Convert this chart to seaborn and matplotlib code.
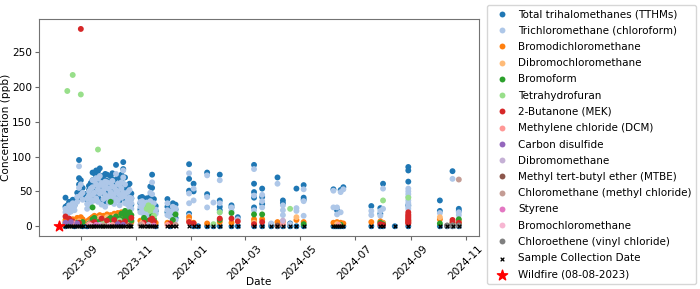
import pandas as pd
import matplotlib.pyplot as plt
import matplotlib.dates as mdates
import seaborn as sns

analytes = ['Total trihalomethanes (TTHMs)', 'Trichloromethane (chloroform)', 'Bromodichloromethane',
            'Dibromochloromethane', 'Bromoform', 'Tetrahydrofuran', '2-Butanone (MEK)',
            'Methylene chloride (DCM)', 'Carbon disulfide', 'Dibromomethane',
            'Methyl tert-butyl ether (MTBE)', 'Chloromethane (methyl chloride)', 'Styrene',
            'Bromochloromethane', 'Chloroethene (vinyl chloride)']

wildfire_date = '2023-08-08'

# concentration (ppb) per sampling date
tthm = {
    '2023-08-15': [41, 28, 0], '2023-08-17': [30, 25], '2023-08-19': [35, 27], '2023-08-21': [32, 24],
    '2023-08-23': [38, 29], '2023-08-25': [34, 30, 0], '2023-08-28': [48, 40], '2023-08-30': [95, 69, 60],
    '2023-09-01': [66, 57, 50], '2023-09-03': [55, 44, 0], '2023-09-08': [47, 38, 0], '2023-09-10': [58, 52, 36],
    '2023-09-12': [62, 45, 40], '2023-09-14': [77, 66, 54], '2023-09-16': [76, 58, 44], '2023-09-18': [80, 72, 48],
    '2023-09-20': [79, 63, 42], '2023-09-22': [83, 70, 56], '2023-09-24': [72, 60, 38], '2023-09-26': [68, 61, 47],
    '2023-09-28': [75, 53, 34], '2023-09-30': [74, 65, 49], '2023-10-02': [63, 51, 41], '2023-10-04': [72, 58, 44],
    '2023-10-06': [76, 67, 52], '2023-10-08': [66, 55, 39], '2023-10-10': [88, 62, 47], '2023-10-12': [71, 59, 45],
    '2023-10-14': [69, 54, 37], '2023-10-16': [74, 64, 50], '2023-10-18': [92, 82, 58], '2023-10-20': [70, 52, 40],
    '2023-10-23': [58, 46, 38], '2023-10-25': [61, 49, 33], '2023-10-27': [47, 40, 31],
    '2023-11-06': [41, 33, 24], '2023-11-08': [42, 36, 27], '2023-11-10': [39, 30, 20], '2023-11-13': [40, 27, 18],
    '2023-11-15': [37, 31, 23], '2023-11-17': [57, 43, 29], '2023-11-19': [74, 55, 35], '2023-11-21': [39, 28, 21],
    '2023-11-23': [29, 22, 0], '2023-12-06': [39, 28, 20], '2023-12-09': [25, 17, 0], '2023-12-12': [33, 27, 14],
    '2023-12-15': [31, 24, 12], '2023-12-30': [89, 68, 51, 18], '2024-01-04': [61, 50, 0], '2024-01-09': [0],
    '2024-01-19': [77, 46, 0], '2024-01-26': [0], '2024-02-02': [74, 37, 28, 23, 0], '2024-02-15': [30, 27, 0],
    '2024-02-22': [13, 0], '2024-03-11': [88, 61, 49, 41, 27, 0], '2024-03-20': [54, 42, 32, 0],
    '2024-03-30': [3, 0], '2024-04-06': [70, 0], '2024-04-12': [37, 33, 0], '2024-04-20': [4, 0],
    '2024-04-27': [54, 0], '2024-05-05': [59, 41, 38, 0], '2024-06-07': [53, 0], '2024-06-09': [0],
    '2024-06-11': [23, 0], '2024-06-13': [0], '2024-06-15': [52, 0], '2024-06-18': [56, 0], '2024-07-19': [29, 0],
    '2024-07-29': [26, 18, 0], '2024-08-01': [61, 0], '2024-08-14': [0], '2024-08-29': [85, 80, 64, 30, 0],
    '2024-10-03': [37, 22, 0], '2024-10-11': [0], '2024-10-17': [79, 0], '2024-10-24': [25, 22, 0],
}
chloroform = {
    '2023-08-15': [25, 20], '2023-08-17': [22, 18], '2023-08-19': [30, 20], '2023-08-21': [27, 21],
    '2023-08-23': [33, 24], '2023-08-25': [29, 23], '2023-08-28': [42, 35], '2023-08-30': [86, 55],
    '2023-09-01': [60, 45], '2023-09-03': [48, 38], '2023-09-08': [40, 32, 25], '2023-09-10': [50, 44, 30],
    '2023-09-12': [54, 38, 33], '2023-09-14': [66, 56, 45], '2023-09-16': [65, 48, 37], '2023-09-18': [69, 60, 40],
    '2023-09-20': [68, 53, 35], '2023-09-22': [72, 59, 47], '2023-09-24': [62, 50, 31], '2023-09-26': [58, 51, 39],
    '2023-09-28': [64, 45, 28], '2023-09-30': [63, 55, 41], '2023-10-02': [54, 43, 34], '2023-10-04': [62, 49, 36],
    '2023-10-06': [65, 57, 43], '2023-10-08': [56, 46, 32], '2023-10-10': [75, 52, 39], '2023-10-12': [61, 50, 37],
    '2023-10-14': [59, 45, 30], '2023-10-16': [63, 54, 41], '2023-10-18': [80, 70, 48], '2023-10-20': [60, 43, 33],
    '2023-10-23': [49, 38, 31], '2023-10-25': [52, 41, 27], '2023-10-27': [40, 33, 25],
    '2023-11-06': [35, 28, 20], '2023-11-08': [36, 30, 22], '2023-11-10': [33, 25, 17], '2023-11-13': [34, 23, 15],
    '2023-11-15': [31, 26, 19], '2023-11-17': [48, 36, 24], '2023-11-19': [63, 46, 29], '2023-11-21': [33, 23, 17],
    '2023-11-23': [24, 18], '2023-12-06': [33, 23, 16], '2023-12-09': [21, 14], '2023-12-12': [28, 22, 11],
    '2023-12-15': [26, 20, 9], '2023-12-30': [76, 47, 33, 15], '2024-01-04': [54, 37], '2024-01-19': [73, 42, 27],
    '2024-01-26': [34], '2024-02-02': [66, 33, 20], '2024-02-15': [27, 22], '2024-02-22': [10],
    '2024-03-11': [82, 44, 23], '2024-03-20': [45, 36, 27], '2024-03-30': [4], '2024-04-06': [61],
    '2024-04-12': [30, 23, 16], '2024-04-20': [3], '2024-04-27': [26, 22], '2024-05-05': [53, 36, 15],
    '2024-06-07': [51, 27], '2024-06-11': [27, 17], '2024-06-15': [49, 20], '2024-06-18': [53],
    '2024-07-19': [22, 16], '2024-07-29': [22, 15], '2024-08-01': [54, 25],
    '2024-08-29': [54, 50, 46, 42, 37, 33, 28, 25], '2024-10-03': [19], '2024-10-17': [68], '2024-10-24': [16, 20],
}
bromodichloromethane = {
    '2023-08-15': [9, 6], '2023-08-19': [8], '2023-08-23': [10, 7], '2023-08-28': [12], '2023-08-30': [9],
    '2023-09-01': [13, 8], '2023-09-03': [10], '2023-09-08': [7], '2023-09-10': [9, 6], '2023-09-12': [11],
    '2023-09-14': [13, 10], '2023-09-16': [15, 12], '2023-09-18': [12, 9], '2023-09-20': [14],
    '2023-09-22': [16, 11], '2023-09-24': [13], '2023-09-26': [15, 10], '2023-09-28': [12], '2023-09-30': [17, 13],
    '2023-10-02': [14], '2023-10-04': [16, 11], '2023-10-06': [15], '2023-10-08': [18, 12], '2023-10-10': [14],
    '2023-10-12': [19, 13], '2023-10-14': [17], '2023-10-16': [20, 11], '2023-10-18': [13], '2023-10-20': [10],
    '2023-10-23': [8], '2023-10-25': [7], '2023-10-27': [6], '2023-11-06': [8], '2023-11-10': [6],
    '2023-11-15': [7], '2023-11-19': [9], '2023-11-23': [5], '2023-12-06': [5], '2023-12-12': [4],
    '2023-12-30': [13, 9], '2024-01-04': [5], '2024-01-19': [4], '2024-02-02': [6], '2024-02-15': [5],
    '2024-03-11': [10, 6], '2024-03-20': [10], '2024-04-06': [6], '2024-04-12': [7], '2024-04-27': [9],
    '2024-05-05': [6], '2024-06-07': [5], '2024-06-09': [4], '2024-06-11': [6], '2024-06-13': [3],
    '2024-06-15': [5], '2024-06-18': [4], '2024-07-19': [6], '2024-07-29': [7], '2024-08-01': [5],
    '2024-08-29': [8], '2024-10-03': [10], '2024-10-24': [6],
}
dibromochloromethane = {
    '2023-08-17': [5], '2023-08-25': [6], '2023-08-30': [7], '2023-09-10': [5], '2023-09-14': [8],
    '2023-09-18': [10], '2023-09-22': [12], '2023-09-26': [9], '2023-09-30': [13], '2023-10-04': [11],
    '2023-10-08': [14], '2023-10-12': [12], '2023-10-16': [10], '2023-10-20': [8], '2023-10-25': [6],
    '2023-11-08': [5], '2023-11-17': [4], '2023-12-30': [8], '2024-03-11': [5], '2024-04-27': [13],
    '2024-06-11': [3], '2024-08-01': [4], '2024-08-29': [6], '2024-10-03': [13], '2024-10-24': [8],
}
bromoform = {
    '2023-08-15': [3], '2023-08-21': [4], '2023-08-28': [5], '2023-09-03': [6], '2023-09-10': [4],
    '2023-09-14': [27, 10], '2023-09-16': [12], '2023-09-20': [6], '2023-09-24': [9], '2023-09-28': [7],
    '2023-10-02': [10], '2023-10-04': [35, 12], '2023-10-06': [8], '2023-10-10': [14], '2023-10-12': [6],
    '2023-10-14': [11], '2023-10-16': [18], '2023-10-18': [9], '2023-10-20': [22, 15], '2023-10-23': [18, 10],
    '2023-10-25': [20, 12], '2023-10-27': [16, 8], '2023-11-10': [12], '2023-11-15': [8], '2023-11-19': [15],
    '2023-11-21': [10], '2023-12-12': [9], '2023-12-15': [17], '2024-02-02': [9], '2024-02-15': [19],
    '2024-03-11': [17], '2024-03-20': [17], '2024-05-05': [3], '2024-06-15': [2], '2024-07-29': [5],
    '2024-08-01': [3], '2024-10-03': [4], '2024-10-17': [4], '2024-10-24': [10],
}
tetrahydrofuran = {
    '2023-08-17': [194], '2023-08-23': [217], '2023-09-01': [189], '2023-09-20': [110], '2023-09-26': [5],
    '2023-10-14': [8], '2023-11-13': [25], '2023-11-15': [30], '2023-11-17': [22], '2023-11-19': [27],
    '2023-11-21': [15], '2024-01-26': [3], '2024-02-02': [20], '2024-04-20': [25], '2024-08-01': [37],
    '2024-08-29': [41], '2024-10-24': [4],
}
mek = {
    '2023-08-15': [14], '2023-08-19': [11], '2023-08-23': [7], '2023-08-30': [5], '2023-09-01': [283],
    '2023-09-12': [4], '2023-09-16': [6], '2023-09-24': [11], '2023-09-30': [8], '2023-10-08': [9],
    '2023-10-14': [5], '2023-10-20': [7], '2023-10-27': [12], '2023-11-10': [5], '2023-11-17': [9],
    '2023-11-19': [11], '2023-11-21': [7], '2023-12-09': [4], '2023-12-30': [6], '2024-01-04': [4],
    '2024-02-02': [11], '2024-02-15': [11], '2024-02-22': [7], '2024-03-11': [3], '2024-03-20': [6],
    '2024-07-29': [3], '2024-08-01': [2], '2024-08-29': [20, 17, 15, 13, 11, 9, 7, 5, 4],
    '2024-10-17': [9, 6], '2024-10-24': [5],
}
dcm = {'2023-08-25': [4], '2023-09-10': [3], '2023-10-06': [2], '2023-11-08': [3], '2023-12-06': [2],
       '2024-04-12': [3], '2024-06-13': [2]}
carbon_disulfide = {'2023-08-15': [5], '2023-08-21': [6], '2023-08-28': [4], '2023-10-12': [3], '2023-10-18': [2]}
dibromomethane = {'2023-09-22': [2], '2023-11-15': [2], '2024-04-12': [8]}
mtbe = {'2023-09-14': [1], '2023-10-25': [1], '2024-04-06': [1]}
chloromethane = {'2023-09-26': [1], '2023-11-06': [2], '2023-12-15': [2], '2024-10-11': [1], '2024-10-17': [1],
                 '2024-10-24': [67]}
styrene = {'2023-09-18': [2], '2023-11-21': [1]}
bromochloromethane = {'2023-09-12': [1], '2023-10-02': [1]}
chloroethene = {'2024-10-11': [1], '2024-10-17': [1], '2024-10-24': [1]}

series = [tthm, chloroform, bromodichloromethane, dibromochloromethane, bromoform, tetrahydrofuran, mek,
          dcm, carbon_disulfide, dibromomethane, mtbe, chloromethane, styrene, bromochloromethane, chloroethene]

rows = []
for name, d in zip(analytes, series):
    for day, vals in d.items():
        for v in vals:
            rows.append((pd.Timestamp(day), name, v))
df = pd.DataFrame(rows, columns=['Date', 'Analyte', 'Concentration'])
sample_dates = sorted(df['Date'].unique())

plt.rcParams['font.size'] = 7.6
fig, ax = plt.subplots(figsize=(7, 2.89), dpi=100)
fig.subplots_adjust(left=0.056, right=0.684, top=0.934, bottom=0.183)

sns.scatterplot(data=df, x='Date', y='Concentration', hue='Analyte', hue_order=analytes,
                palette='tab20', s=18, linewidth=0, ax=ax)
leg = ax.get_legend()
handles = list(leg.legend_handles)
labels = [t.get_text() for t in leg.get_texts()]
leg.remove()

xs = ax.scatter(sample_dates, [0] * len(sample_dates), marker='x', color='black', s=7, linewidths=0.9, zorder=3)
star = ax.scatter([pd.Timestamp(wildfire_date)], [0], marker='*', color='red', s=60, zorder=4)
handles += [xs, star]
labels += ['Sample Collection Date', 'Wildfire (08-08-2023)']

ax.xaxis.set_major_locator(mdates.MonthLocator(bymonth=[1, 3, 5, 7, 9, 11]))
ax.xaxis.set_major_formatter(mdates.DateFormatter('%Y-%m'))
plt.setp(ax.get_xticklabels(), rotation=45)
ax.tick_params(length=3, pad=2, color='0.4')
for sp in ax.spines.values():
    sp.set_color('0.45')
ax.set_xlabel('Date')
ax.xaxis.set_label_coords(0.5, -0.19)
ax.set_ylabel('Concentration (ppb)', labelpad=1)

fig.legend(handles, labels, loc='center left', bbox_to_anchor=(0.688, 0.5), fontsize=7.5,
           labelspacing=0.6, borderpad=0.45, handletextpad=0.55)
fig.savefig('out.png', dpi=100)
